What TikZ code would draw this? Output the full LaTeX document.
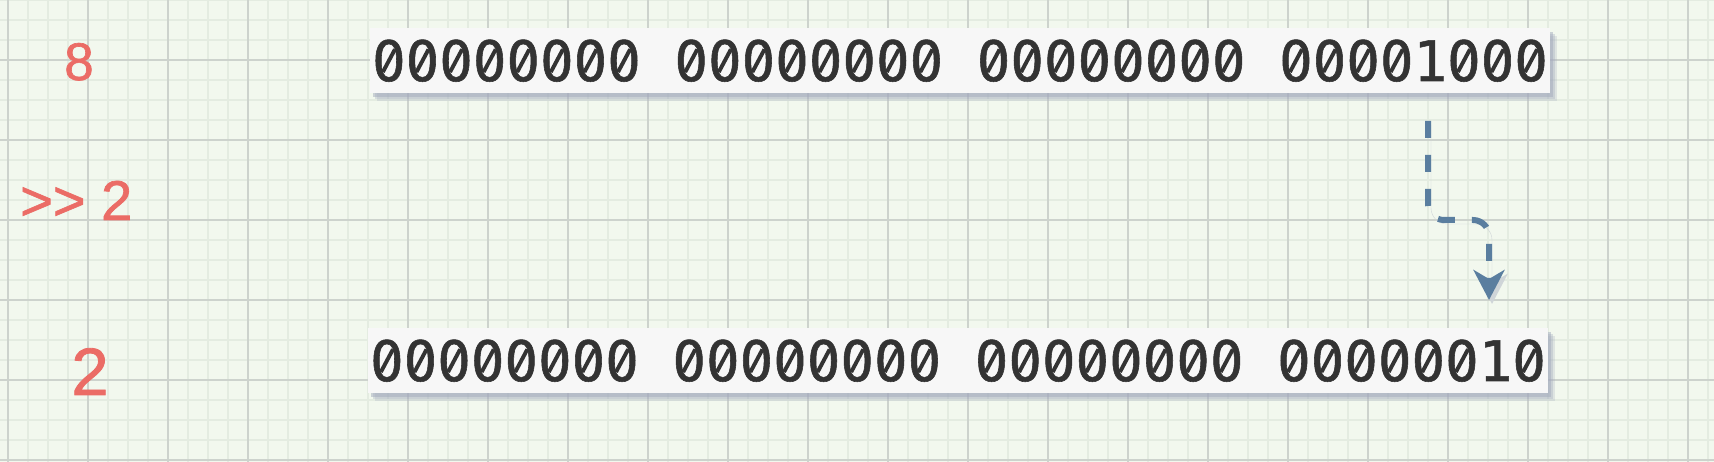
\documentclass[tikz,border=0pt]{standalone}
\usepackage{fontspec}
\usepackage{xcolor}
\usepackage{graphicx}
\usetikzlibrary{arrows.meta,shadows}
\newfontface\bitfont{DejaVu Sans Mono}[FakeBold=1]
\newfontface\numfont{Liberation Sans}[FakeBold=1.2]
\definecolor{paper}{HTML}{F2F8EE}
\definecolor{minorline}{HTML}{E4ECE1}
\definecolor{majorline}{HTML}{CDD3CD}
\definecolor{boxfill}{HTML}{F7F7F7}
\definecolor{boxshadow}{HTML}{A4ABBE}
\definecolor{bitink}{HTML}{333333}
\definecolor{numred}{HTML}{EB6C66}
\definecolor{arrowblue}{HTML}{5A7E9F}
% slashed zero and bytes
\newcommand{\bz}{\ooalign{0\cr\hidewidth\textcolor{boxfill}{\rule[0.24em]{0.15em}{0.25em}}\hidewidth\cr
    \hidewidth\raisebox{0.144em}{\rotatebox{62}{\rule{0.46em}{0.07em}}}\hidewidth\cr}}
\newcommand{\zbyte}{\bz\bz\bz\bz\bz\bz\bz\bz}

\begin{document}
\begin{tikzpicture}[x=1pt, y=-1pt,
    bits/.style={fill=boxfill, minimum width=1180pt, minimum height=65pt, inner sep=0pt,
        text=bitink, text height=41pt, text depth=0pt,
        font=\bitfont\fontsize{55.8}{60}\selectfont,
        drop shadow={shadow xshift=7pt, shadow yshift=-8pt, fill=boxshadow, opacity=0.25},
        drop shadow={shadow xshift=5pt, shadow yshift=-6pt, fill=boxshadow, opacity=0.35},
        drop shadow={shadow xshift=3pt, shadow yshift=-4pt, fill=boxshadow, opacity=0.5}},
    numlabel/.style={text=numred, inner sep=0pt},
    shiftarrow/.style={draw=arrowblue, line width=6pt, dash pattern=on 17pt off 17pt,
        rounded corners=16pt, -{Stealth[length=30pt, width=31pt, inset=9pt]},
        preaction={draw=boxshadow!45!paper, transform canvas={shift={(3pt,-4pt)}}}}]
    \useasboundingbox (0,0) rectangle (1714,462);
    % paper grid
    \fill[paper] (0,0) rectangle (1714,462);
    \foreach \x in {8,28,...,1714}
        \draw[minorline, line width=1.5pt] (\x,0) -- (\x,462);
    \foreach \y in {0,20,...,462}
        \draw[minorline, line width=1.5pt] (0,\y) -- (1714,\y);
    \foreach \x in {8,88,...,1714}
        \draw[majorline, line width=1.2pt] (\x,0) -- (\x,462);
    \foreach \y in {60,140,...,462}
        \draw[majorline, line width=1.2pt] (0,\y) -- (1714,\y);

    % values
    \node[numlabel, anchor=base, font=\numfont\fontsize{53}{60}\selectfont] (eight) at (79,80) {8};
    \node[numlabel, anchor=base west, font=\numfont\fontsize{56}{60}\selectfont] (shiftlabel) at (20,220) {>{}> 2};
    \node[numlabel, anchor=base, font=\numfont\fontsize{67}{70}\selectfont] (two) at (90,395) {2};

    % bit patterns
    \node[bits] (topbits) at (960,60.5) {\zbyte{} \zbyte{} \zbyte{} \bz\bz\bz\bz1\bz\bz\bz};
    \node[bits] (botbits) at (958,360.5) {\zbyte{} \zbyte{} \zbyte{} \bz\bz\bz\bz\bz\bz1\bz};

    \coordinate (shiftstart) at (1428,121);
    \coordinate (shiftend) at (1489,300);
    \draw[shiftarrow] (shiftstart) -- ++(0,99) -| (shiftend);
\end{tikzpicture}
\end{document}
